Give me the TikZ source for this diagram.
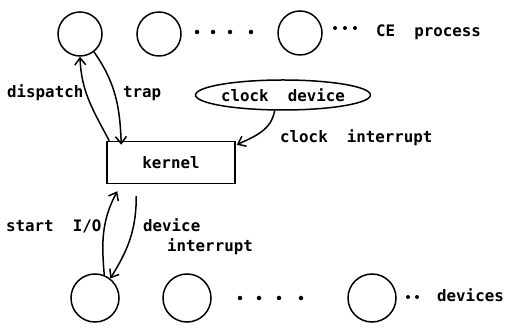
\documentclass[tikz,border=0pt]{standalone}
\usepackage{fontspec}
\setmonofont{DejaVu Sans Mono}
\usetikzlibrary{arrows.meta,shapes.geometric,calc}
\tikzset{
  proc/.style={circle,draw,line width=1.5pt,minimum size=44pt,inner sep=0pt},
  dev/.style={circle,draw,line width=1.5pt,minimum size=48pt,inner sep=0pt},
  lbl/.style={inner sep=0pt,font=\ttfamily\bfseries\fontsize{15.8}{18}\selectfont},
  dotc/.style={circle,fill,inner sep=0pt,minimum size=4.5pt},
  conn/.style={line width=1.5pt,-{Straight Barb[length=7pt,width=11pt,line width=1.5pt]}},
}
\begin{document}
\begin{tikzpicture}[x=1pt,y=1pt]
\useasboundingbox (0,0) rectangle (505,328);
% top process circles
\node[proc] (c1) at (80,294) {};
\node[proc] (c2) at (159,294) {};
\node[proc] (c3) at (300,295) {};
\foreach \i/\x in {1/197,2/213,3/230,4/251} \node[dotc] (td\i) at (\x,296) {};
\foreach \i/\x in {1/335,2/345,3/355} \node[dotc,minimum size=4pt] (te\i) at (\x,300) {};
\node[lbl,anchor=base west] (ce) at (376,291) {CE\ \ process};
% kernel
\node[draw,line width=1.5pt,minimum width=128pt,minimum height=42pt,inner sep=0pt,lbl] (k) at (171,165.5) {kernel};
% clock device
\node[ellipse,draw,line width=1.5pt,minimum width=150pt,minimum height=30pt,inner sep=0pt,lbl] (cd) at (283,233) {clock\ \ device};
% bottom device circles
\node[dev] (b1) at (95,30) {};
\node[dev] (b2) at (187,30) {};
\node[dev] (b3) at (372,30) {};
\foreach \i/\x in {1/240,2/259,3/279,4/301} \node[dotc] (bd\i) at (\x,30) {};
\foreach \i/\x in {1/408,2/417} \node[dotc,minimum size=4pt] (be\i) at (\x,31) {};
\node[lbl,anchor=base west] (dv) at (437,26) {devices};
% labels
\node[lbl,anchor=base west] (ldisp) at (7,230) {dispatch};
\node[lbl,anchor=base west] (ltrap) at (123,230) {trap};
\node[lbl,anchor=base west] (lclk) at (280,185) {clock\ \ interrupt};
\node[lbl,anchor=base west] (lsio) at (6,96) {start\ \ I/O};
\node[lbl,anchor=base west] (ldev) at (143,96) {device};
\node[lbl,anchor=base west] (lint) at (167,76) {interrupt};
% connectors
\coordinate (kd) at ($(k.north west)+(3,0)$);
\coordinate (kt) at ($(k.north west)+(15,-4)$);
\coordinate (ks) at ($(k.south west)+(11,-7)$);
\coordinate (kv) at ($(k.south west)+(30,-12)$);
\draw[conn] (kd) to[out=118,in=-88] (c1.south);
\draw[conn] (c1.-52) to[out=-55,in=92] (kt);
\draw[conn] (cd.-118) to[out=-100,in=25] ($(k.north east)+(1,-4)$);
\draw[conn] (b1.68) to[out=95,in=-118] (ks);
\draw[conn] (kv) to[out=-90,in=58] (b1.52);
\end{tikzpicture}
\end{document}
